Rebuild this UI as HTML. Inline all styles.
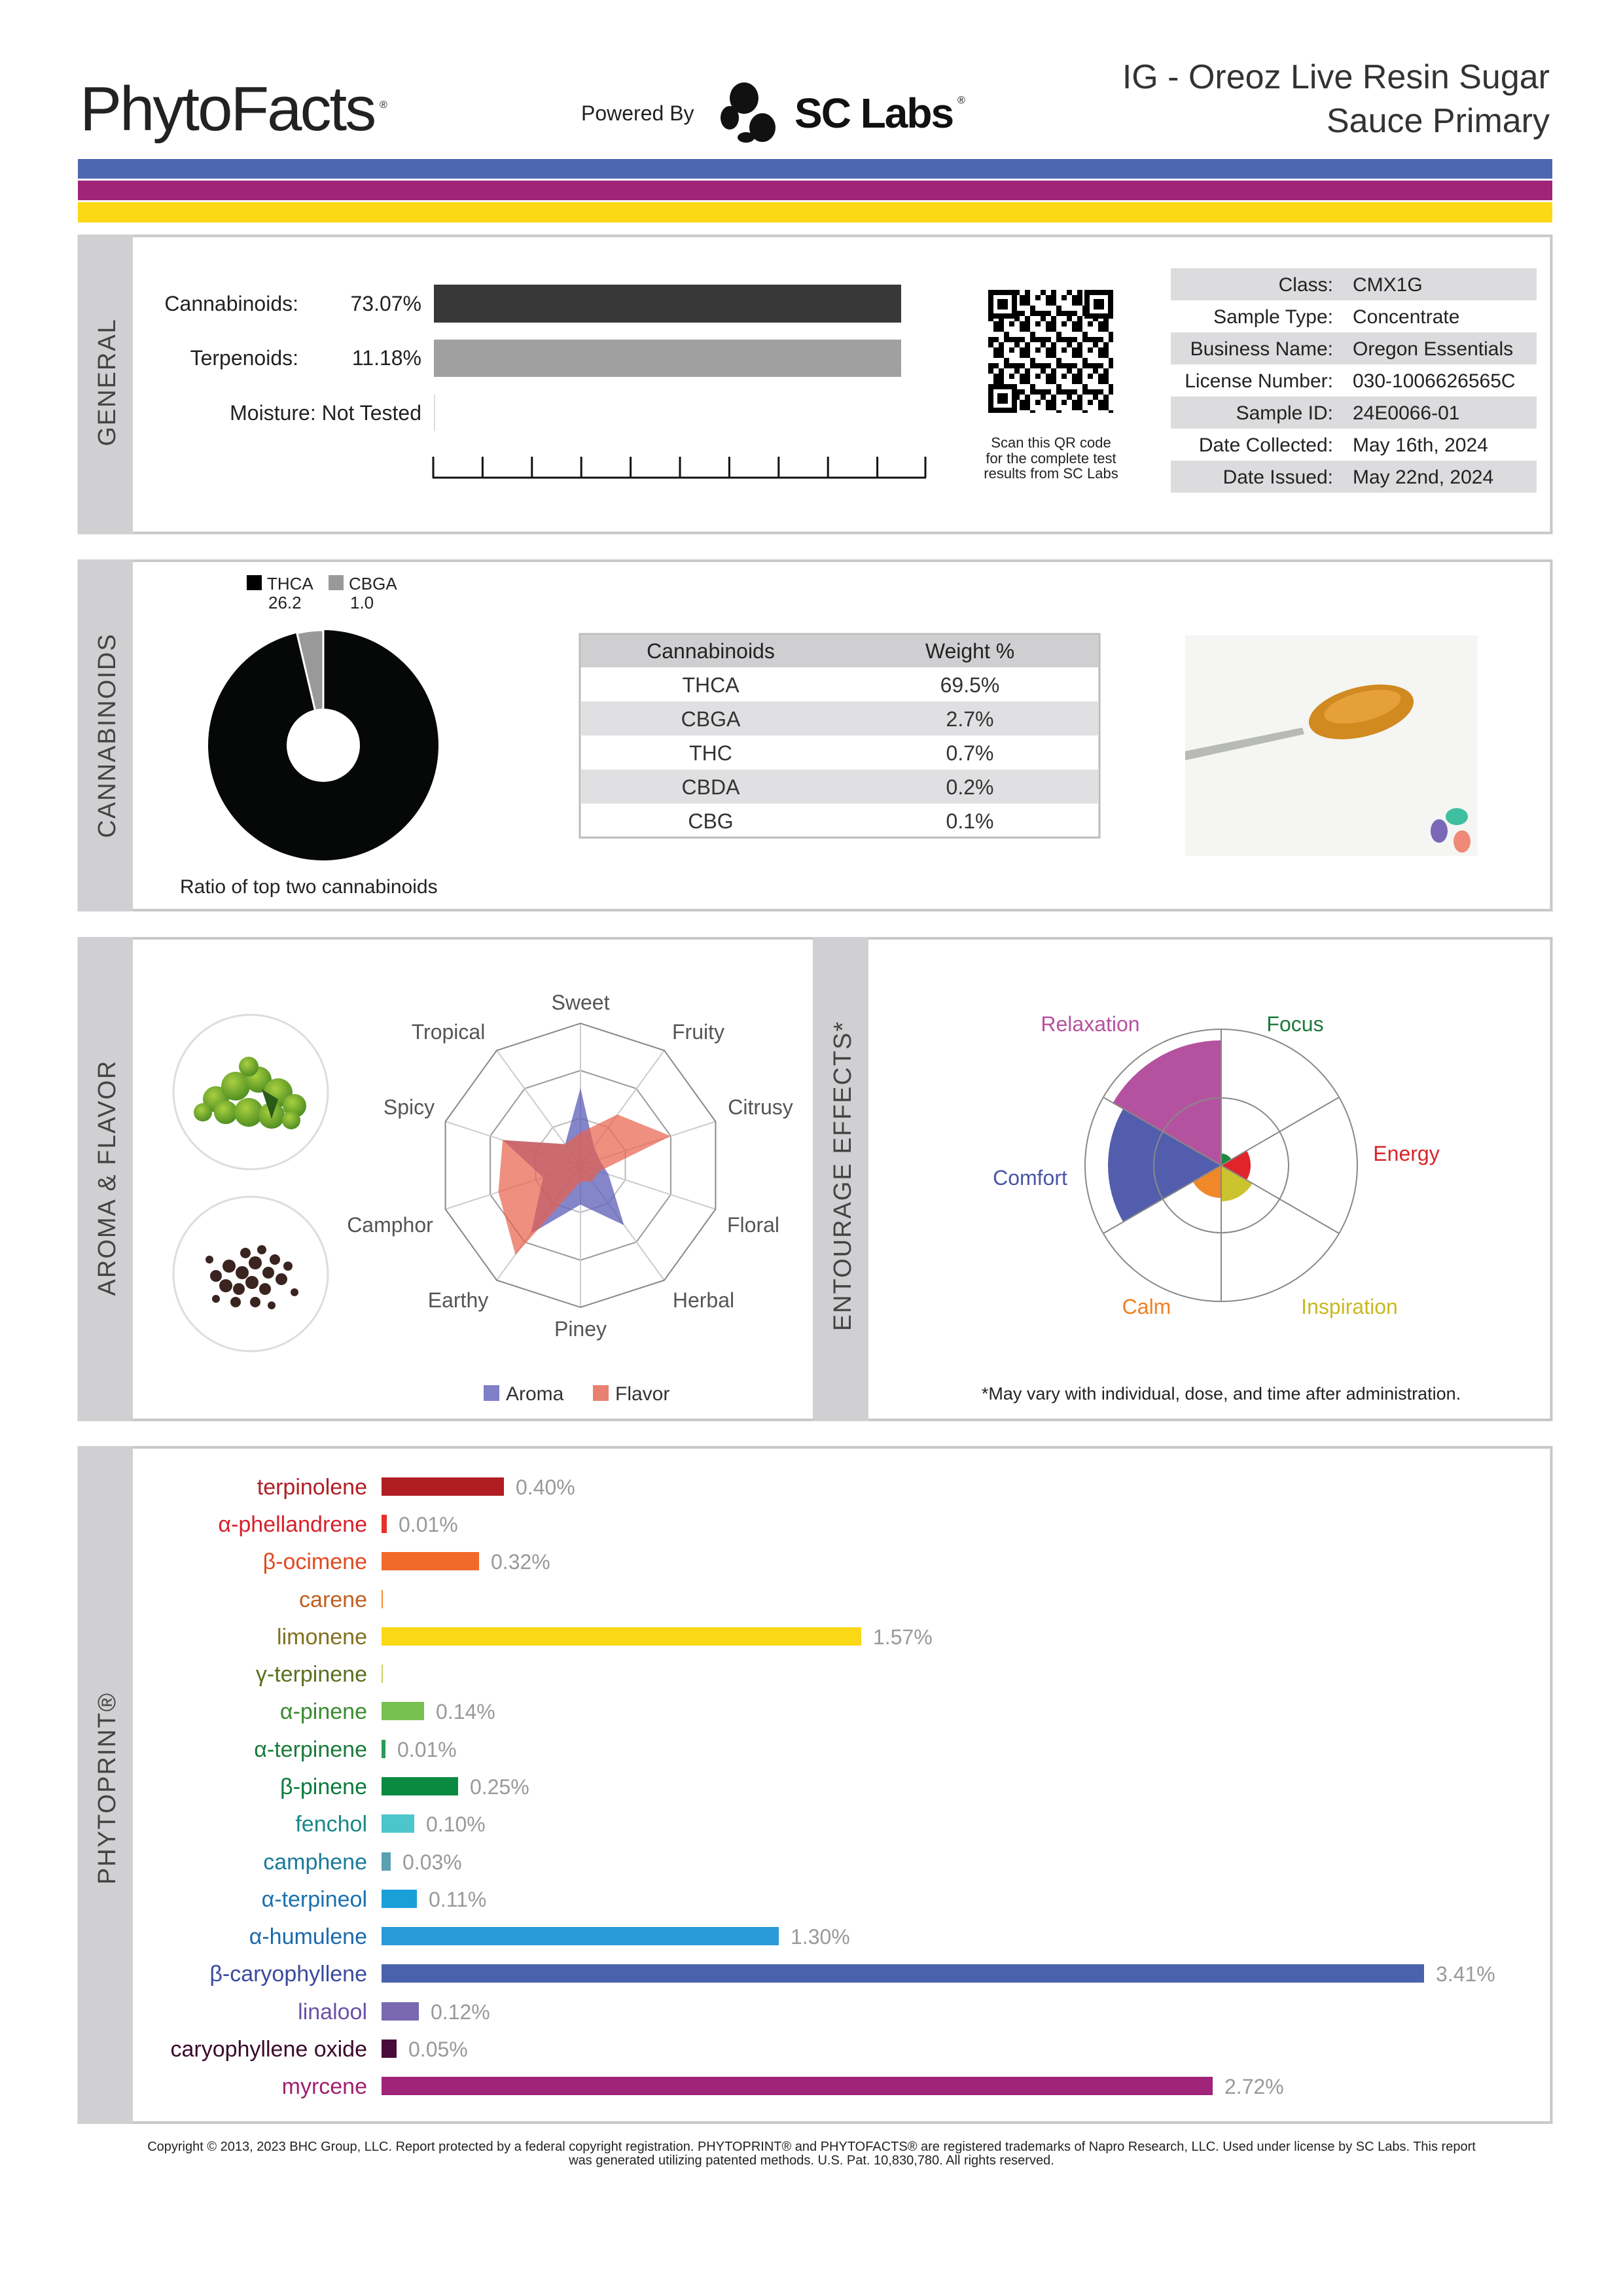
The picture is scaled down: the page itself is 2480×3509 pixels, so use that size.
<!DOCTYPE html>
<html><head><meta charset="utf-8"><style>
html,body{margin:0;padding:0;background:#fff}
svg{display:block}
text{font-family:"Liberation Sans",sans-serif}
</style></head><body>
<svg width="2480" height="3509" viewBox="0 0 2480 3509" xmlns="http://www.w3.org/2000/svg">
<defs>
<pattern id="qr" x="1510" y="443" width="40" height="40" patternUnits="userSpaceOnUse">
<rect width="40" height="40" fill="#fff"/>
<rect x="0" y="0" width="8" height="8" fill="#000"/><rect x="16" y="0" width="8" height="16" fill="#000"/>
<rect x="8" y="16" width="16" height="8" fill="#000"/><rect x="32" y="8" width="8" height="8" fill="#000"/>
<rect x="24" y="24" width="8" height="16" fill="#000"/><rect x="0" y="32" width="16" height="8" fill="#000"/>
<rect x="32" y="32" width="8" height="8" fill="#000"/><rect x="8" y="8" width="8" height="8" fill="#000"/>
</pattern>
<radialGradient id="hop" cx="0.4" cy="0.35" r="0.7"><stop offset="0" stop-color="#a8d040"/><stop offset="1" stop-color="#4a8a20"/></radialGradient>
</defs>

<!-- Header -->
<text x="122" y="199" font-size="96" fill="#222" letter-spacing="-3">PhytoFacts</text>
<text x="580" y="165" font-size="16" fill="#222">®</text>
<text x="888" y="184" font-size="32" fill="#222">Powered By</text>
<ellipse cx="1137" cy="150" rx="22" ry="24" fill="#111"/>
<ellipse cx="1115" cy="180" rx="14" ry="18" fill="#111"/>
<ellipse cx="1165" cy="195" rx="20" ry="22" fill="#111"/>
<ellipse cx="1140" cy="210" rx="13" ry="8" fill="#111"/>
<text x="1214" y="195" font-size="64" font-weight="bold" fill="#111" letter-spacing="-2">SC Labs</text>
<text x="1463" y="158" font-size="16" fill="#111">®</text>
<text x="2368" y="135" font-size="52" fill="#333" text-anchor="end">IG - Oreoz Live Resin Sugar</text>
<text x="2368" y="202" font-size="52" fill="#333" text-anchor="end">Sauce Primary</text>

<rect x="119" y="243" width="2253" height="30" fill="#4d68b0"/>
<rect x="119" y="276" width="2253" height="30" fill="#a02578"/>
<rect x="119" y="309" width="2253" height="31" fill="#fbd914"/>

<!-- GENERAL panel -->
<rect x="120.5" y="360.5" width="2250" height="454" fill="#fff" stroke="#c8c8c8" stroke-width="4"/>
<rect x="119" y="359" width="84" height="457" fill="#d0d0d2"/>
<text transform="translate(164,584) rotate(-90)" font-size="38" fill="#444" text-anchor="middle" dominant-baseline="central" letter-spacing="2">GENERAL</text>
<text x="456" y="475" font-size="32" fill="#222" text-anchor="end">Cannabinoids:</text>
<text x="644" y="475" font-size="32" fill="#222" text-anchor="end">73.07%</text>
<rect x="663" y="435" width="714" height="58" fill="#383838"/>
<text x="456" y="558" font-size="32" fill="#222" text-anchor="end">Terpenoids:</text>
<text x="644" y="558" font-size="32" fill="#222" text-anchor="end">11.18%</text>
<rect x="663" y="519" width="714" height="57" fill="#a0a0a0"/>
<text x="644" y="642" font-size="32" fill="#222" text-anchor="end">Moisture:  Not Tested</text>
<line x1="664" y1="603" x2="664" y2="659" stroke="#ddd" stroke-width="2"/>
<path d="M661 730 H1415 M662 698 V730 M737.4 698 V730 M812.8 698 V730 M888.2 698 V730 M963.6 698 V730 M1039 698 V730 M1114.4 698 V730 M1189.8 698 V730 M1265.2 698 V730 M1340.6 698 V730 M1414 698 V730" stroke="#111" stroke-width="3" fill="none"/>
<!-- QR -->
<rect x="1510" y="443" width="191" height="188" fill="url(#qr)"/>
<g fill="none" stroke="#000" stroke-width="8">
<rect x="1514" y="447" width="36" height="36" fill="#fff"/><rect x="1661" y="447" width="36" height="36" fill="#fff"/><rect x="1514" y="591" width="36" height="36" fill="#fff"/>
</g>
<rect x="1524" y="457" width="16" height="16"/><rect x="1671" y="457" width="16" height="16"/><rect x="1524" y="601" width="16" height="16"/>
<text x="1606" y="684" font-size="22" fill="#222" text-anchor="middle">Scan this QR code</text>
<text x="1606" y="708" font-size="22" fill="#222" text-anchor="middle">for the complete test</text>
<text x="1606" y="731" font-size="22" fill="#222" text-anchor="middle">results from SC Labs</text>
<!-- info table -->
<rect x="1789" y="410" width="559" height="49" fill="#dcdcde"/>
<rect x="1789" y="508" width="559" height="49" fill="#dcdcde"/>
<rect x="1789" y="606" width="559" height="49" fill="#dcdcde"/>
<rect x="1789" y="704" width="559" height="49" fill="#dcdcde"/>
<g font-size="30" fill="#222">
<g text-anchor="end">
<text x="2037" y="445">Class:</text><text x="2037" y="494">Sample Type:</text><text x="2037" y="543">Business Name:</text><text x="2037" y="592">License Number:</text><text x="2037" y="641">Sample ID:</text><text x="2037" y="690">Date Collected:</text><text x="2037" y="739">Date Issued:</text>
</g>
<text x="2067" y="445">CMX1G</text><text x="2067" y="494">Concentrate</text><text x="2067" y="543">Oregon Essentials</text><text x="2067" y="592">030-1006626565C</text><text x="2067" y="641">24E0066-01</text><text x="2067" y="690">May 16th, 2024</text><text x="2067" y="739">May 22nd, 2024</text>
</g>

<!-- CANNABINOIDS panel -->
<rect x="120.5" y="857" width="2250" height="534" fill="#fff" stroke="#c8c8c8" stroke-width="4"/>
<rect x="119" y="855" width="84" height="538" fill="#d0d0d2"/>
<text transform="translate(164,1124) rotate(-90)" font-size="38" fill="#444" text-anchor="middle" dominant-baseline="central" letter-spacing="2">CANNABINOIDS</text>
<rect x="377" y="879" width="23" height="23" fill="#000"/>
<text x="408" y="901" font-size="26" fill="#222">THCA</text>
<text x="410" y="930" font-size="26" fill="#222">26.2</text>
<rect x="502" y="879" width="23" height="23" fill="#999"/>
<text x="533" y="901" font-size="26" fill="#222">CBGA</text>
<text x="535" y="930" font-size="26" fill="#222">1.0</text>
<circle cx="494" cy="1139" r="176" fill="#060808"/>
<path d="M494 1139 L494 963 A176 176 0 0 0 453.8 967.7 Z" fill="#999" stroke="#fff" stroke-width="3"/>
<circle cx="494" cy="1139" r="56" fill="#fff"/>
<text x="275" y="1365" font-size="30" fill="#222">Ratio of top two cannabinoids</text>
<!-- table -->
<rect x="886" y="969" width="794" height="311" fill="#fff" stroke="#bbb" stroke-width="3"/>
<rect x="887" y="970" width="792" height="50" fill="#cfcfd1"/>
<rect x="887" y="1072" width="792" height="52" fill="#e0e0e2"/>
<rect x="887" y="1176" width="792" height="52" fill="#e0e0e2"/>
<g font-size="32" fill="#333" text-anchor="middle">
<text x="1086" y="1006" fill="#222">Cannabinoids</text><text x="1482" y="1006" fill="#222">Weight %</text>
<text x="1086" y="1058">THCA</text><text x="1482" y="1058">69.5%</text>
<text x="1086" y="1110">CBGA</text><text x="1482" y="1110">2.7%</text>
<text x="1086" y="1162">THC</text><text x="1482" y="1162">0.7%</text>
<text x="1086" y="1214">CBDA</text><text x="1482" y="1214">0.2%</text>
<text x="1086" y="1266">CBG</text><text x="1482" y="1266">0.1%</text>
</g>
<!-- photo -->
<rect x="1811" y="971" width="447" height="337" fill="#f5f6f3"/>
<path d="M1811 1148 L1990 1112 L1993 1122 L1811 1162 Z" fill="#b8bab6"/>
<ellipse cx="2080" cy="1088" rx="82" ry="38" fill="#d08a20" transform="rotate(-14 2080 1088)"/>
<ellipse cx="2082" cy="1080" rx="60" ry="22" fill="#e6a03a" transform="rotate(-14 2082 1080)"/>
<ellipse cx="2226" cy="1248" rx="17" ry="13" fill="#3fbfa0"/>
<ellipse cx="2199" cy="1270" rx="13" ry="18" fill="#7a68b8"/>
<ellipse cx="2234" cy="1286" rx="13" ry="17" fill="#ef8a78"/>

<!-- AROMA panel -->
<rect x="120.5" y="1434" width="2250" height="736" fill="#fff" stroke="#c8c8c8" stroke-width="4"/>
<rect x="119" y="1432" width="84" height="740" fill="#d0d0d2"/>
<rect x="1242" y="1432" width="85" height="740" fill="#d0d0d2"/>
<text transform="translate(164,1800) rotate(-90)" font-size="38" fill="#444" text-anchor="middle" dominant-baseline="central" letter-spacing="2">AROMA &amp; FLAVOR</text>
<text transform="translate(1288,1797) rotate(-90)" font-size="38" fill="#444" text-anchor="middle" dominant-baseline="central" letter-spacing="2">ENTOURAGE EFFECTS*</text>
<circle cx="383" cy="1669" r="118" fill="#fff" stroke="#ddd" stroke-width="3"/>
<circle cx="383" cy="1947" r="118" fill="#fff" stroke="#ddd" stroke-width="3"/>
<g fill="url(#hop)">
<circle cx="330" cy="1680" r="20"/><circle cx="360" cy="1660" r="22"/><circle cx="395" cy="1650" r="20"/><circle cx="425" cy="1670" r="22"/><circle cx="450" cy="1690" r="18"/><circle cx="345" cy="1700" r="18"/><circle cx="380" cy="1700" r="22"/><circle cx="415" cy="1705" r="20"/><circle cx="380" cy="1630" r="15"/><circle cx="445" cy="1712" r="14"/><circle cx="310" cy="1700" r="14"/>
</g>
<path d="M400 1665 l25 15 l-10 30 z" fill="#2a5a18"/>
<g fill="#3a2420">
<circle cx="330" cy="1950" r="9"/><circle cx="350" cy="1935" r="10"/><circle cx="370" cy="1945" r="10"/><circle cx="390" cy="1930" r="10"/><circle cx="410" cy="1945" r="9"/><circle cx="430" cy="1955" r="9"/><circle cx="345" cy="1965" r="10"/><circle cx="365" cy="1970" r="9"/><circle cx="385" cy="1960" r="10"/><circle cx="405" cy="1970" r="9"/><circle cx="375" cy="1915" r="8"/><circle cx="400" cy="1910" r="7"/><circle cx="420" cy="1925" r="8"/><circle cx="360" cy="1990" r="8"/><circle cx="390" cy="1990" r="8"/><circle cx="440" cy="1935" r="7"/><circle cx="320" cy="1925" r="6"/><circle cx="450" cy="1975" r="6"/><circle cx="330" cy="1985" r="6"/><circle cx="415" cy="1995" r="6"/>
</g>
<!-- radar -->
<g fill="none" stroke="#ccc" stroke-width="2">
<polygon points="887,1636 972.3,1663.7 1024.9,1736.2 1024.9,1825.8 972.3,1898.3 887,1926 801.7,1898.3 749.1,1825.8 749.1,1736.2 801.7,1663.7" stroke="#999"/>
<polygon points="887,1709 929.3,1722.8 955.5,1758.8 955.5,1803.2 929.3,1839.2 887,1853 844.7,1839.2 818.5,1803.2 818.5,1758.8 844.7,1722.8" stroke="#bbb"/>
<path d="M887 1781 L887 1564 M887 1781 L1015 1605.4 M887 1781 L1093.4 1714 M887 1781 L1093.4 1848 M887 1781 L1015 1956.6 M887 1781 L887 1998 M887 1781 L759 1956.6 M887 1781 L680.6 1848 M887 1781 L680.6 1714 M887 1781 L759 1605.4"/>
<polygon points="887,1564 1015,1605.4 1093.4,1714 1093.4,1848 1015,1956.6 887,1998 759,1956.6 680.6,1848 680.6,1714 759,1605.4" stroke="#888"/>
</g>
<polygon points="887,1663 907.6,1752.7 915.5,1771.7 929.8,1794.9 953.4,1872.4 887,1841 811.1,1885.4 829.9,1799.5 768.1,1742.4 863.5,1748.6" fill="#5c5cb8" fill-opacity="0.75"/>
<polygon points="887,1731 943.4,1703.3 1024.9,1736.2 915.5,1790.3 904.6,1805.3 887,1806 787.6,1917.7 761.5,1821.8 768.1,1742.4 863.5,1748.6" fill="#e8604a" fill-opacity="0.7"/>
<g font-size="32" fill="#555" text-anchor="middle" dominant-baseline="central">
<text x="887" y="1532">Sweet</text><text x="685" y="1577">Tropical</text><text x="1067" y="1577">Fruity</text><text x="625" y="1692">Spicy</text><text x="1162" y="1692">Citrusy</text><text x="596" y="1872">Camphor</text><text x="1151" y="1872">Floral</text><text x="700" y="1987">Earthy</text><text x="1075" y="1987">Herbal</text><text x="887" y="2031">Piney</text>
</g>
<rect x="739" y="2117" width="24" height="24" fill="#8080c8"/>
<text x="773" y="2140" font-size="30" fill="#333">Aroma</text>
<rect x="906" y="2117" width="24" height="24" fill="#e88070"/>
<text x="940" y="2140" font-size="30" fill="#333">Flavor</text>
<!-- entourage polar -->
<path d="M1866 1781 L1700.6 1685.5 A191 191 0 0 1 1866 1590 Z" fill="#b5529f"/>
<path d="M1866 1781 L1716.2 1867.5 A173 173 0 0 1 1716.2 1694.5 Z" fill="#525ead"/>
<path d="M1866 1781 L1905 1758.5 A45 45 0 0 1 1905 1803.5 Z" fill="#e0242a"/>
<path d="M1866 1781 L1866 1763 A18 18 0 0 1 1881.6 1772 Z" fill="#1a8a3e"/>
<path d="M1866 1781 L1913.6 1808.5 A55 55 0 0 1 1866 1836 Z" fill="#cbc42e"/>
<path d="M1866 1781 L1866 1831 A50 50 0 0 1 1822.7 1806 Z" fill="#f0882a"/>
<g fill="none" stroke="#888" stroke-width="2">
<circle cx="1866" cy="1781" r="208"/>
<circle cx="1866" cy="1781" r="103"/>
<path d="M1866 1781 L1866 1573 M1866 1781 L2046.1 1677 M1866 1781 L2046.1 1885 M1866 1781 L1866 1989 M1866 1781 L1685.9 1885 M1866 1781 L1685.9 1677"/>
</g>
<g font-size="32" text-anchor="middle" dominant-baseline="central">
<text x="1666" y="1565" fill="#b5529f">Relaxation</text><text x="1979" y="1565" fill="#1a7a3a">Focus</text><text x="2149" y="1763" fill="#d8242a">Energy</text><text x="1574" y="1800" fill="#4a55a5">Comfort</text><text x="1752" y="1997" fill="#f08020">Calm</text><text x="2062" y="1997" fill="#c8b820">Inspiration</text>
</g>
<text x="1866" y="2139" font-size="27" fill="#222" text-anchor="middle">*May vary with individual, dose, and time after administration.</text>

<!-- PHYTOPRINT panel -->
<rect x="120.5" y="2212" width="2250" height="1032" fill="#fff" stroke="#c8c8c8" stroke-width="4"/>
<rect x="119" y="2210" width="84" height="1036" fill="#d0d0d2"/>
<text transform="translate(164,2733) rotate(-90)" font-size="38" fill="#444" text-anchor="middle" dominant-baseline="central" letter-spacing="2">PHYTOPRINT®</text>
<g font-size="34">
<g text-anchor="end">
<text x="561" y="2284" fill="#b01e24">terpinolene</text>
<text x="561" y="2341" fill="#d8202a">α-phellandrene</text>
<text x="561" y="2398" fill="#e04a20">β-ocimene</text>
<text x="561" y="2456" fill="#c06020">carene</text>
<text x="561" y="2513" fill="#807020">limonene</text>
<text x="561" y="2570" fill="#5a7020">γ-terpinene</text>
<text x="561" y="2627" fill="#3a8a30">α-pinene</text>
<text x="561" y="2685" fill="#1a7a3a">α-terpinene</text>
<text x="561" y="2742" fill="#0a7a3a">β-pinene</text>
<text x="561" y="2799" fill="#1a8888">fenchol</text>
<text x="561" y="2857" fill="#1a7a9a">camphene</text>
<text x="561" y="2914" fill="#1a70b0">α-terpineol</text>
<text x="561" y="2971" fill="#1a6aae">α-humulene</text>
<text x="561" y="3028" fill="#3a4aa0">β-caryophyllene</text>
<text x="561" y="3086" fill="#6a50a8">linalool</text>
<text x="561" y="3143" fill="#3a0a2a">caryophyllene oxide</text>
<text x="561" y="3200" fill="#a02070">myrcene</text>
</g>
<rect x="583" y="2258" width="187" height="28" fill="#b01e24"/>
<rect x="583" y="2315" width="8" height="28" fill="#e8302a"/>
<rect x="583" y="2372" width="149" height="28" fill="#f26a2a"/>
<rect x="583" y="2430" width="2" height="28" fill="#f28a30"/>
<rect x="583" y="2487" width="733" height="28" fill="#fad816"/>
<rect x="583" y="2544" width="2" height="28" fill="#c8d060"/>
<rect x="583" y="2601" width="65" height="28" fill="#78c050"/>
<rect x="583" y="2659" width="6" height="28" fill="#2a9a5a"/>
<rect x="583" y="2716" width="117" height="28" fill="#0a8a40"/>
<rect x="583" y="2773" width="50" height="28" fill="#4cc6ca"/>
<rect x="583" y="2831" width="14" height="28" fill="#5aa0b0"/>
<rect x="583" y="2888" width="54" height="28" fill="#1aa0d8"/>
<rect x="583" y="2945" width="607" height="28" fill="#2a9ad8"/>
<rect x="583" y="3002" width="1593" height="28" fill="#4a62ac"/>
<rect x="583" y="3060" width="57" height="28" fill="#7a68b0"/>
<rect x="583" y="3117" width="23" height="28" fill="#4a0a3a"/>
<rect x="583" y="3174" width="1270" height="28" fill="#a02478"/>
<g fill="#999" font-size="32">
<text x="788" y="2284">0.40%</text><text x="609" y="2341">0.01%</text><text x="750" y="2398">0.32%</text><text x="1334" y="2513">1.57%</text><text x="666" y="2627">0.14%</text><text x="607" y="2685">0.01%</text><text x="718" y="2742">0.25%</text><text x="651" y="2799">0.10%</text><text x="615" y="2857">0.03%</text><text x="655" y="2914">0.11%</text><text x="1208" y="2971">1.30%</text><text x="2194" y="3028">3.41%</text><text x="658" y="3086">0.12%</text><text x="624" y="3143">0.05%</text><text x="1871" y="3200">2.72%</text>
</g>
</g>
<text x="1240" y="3287" font-size="20" fill="#222" text-anchor="middle">Copyright © 2013, 2023 BHC Group, LLC. Report protected by a federal copyright registration. PHYTOPRINT® and PHYTOFACTS® are registered trademarks of Napro Research, LLC. Used under license by SC Labs. This report</text>
<text x="1240" y="3308" font-size="20" fill="#222" text-anchor="middle">was generated utilizing patented methods. U.S. Pat. 10,830,780. All rights reserved.</text>
</svg>
</body></html>
